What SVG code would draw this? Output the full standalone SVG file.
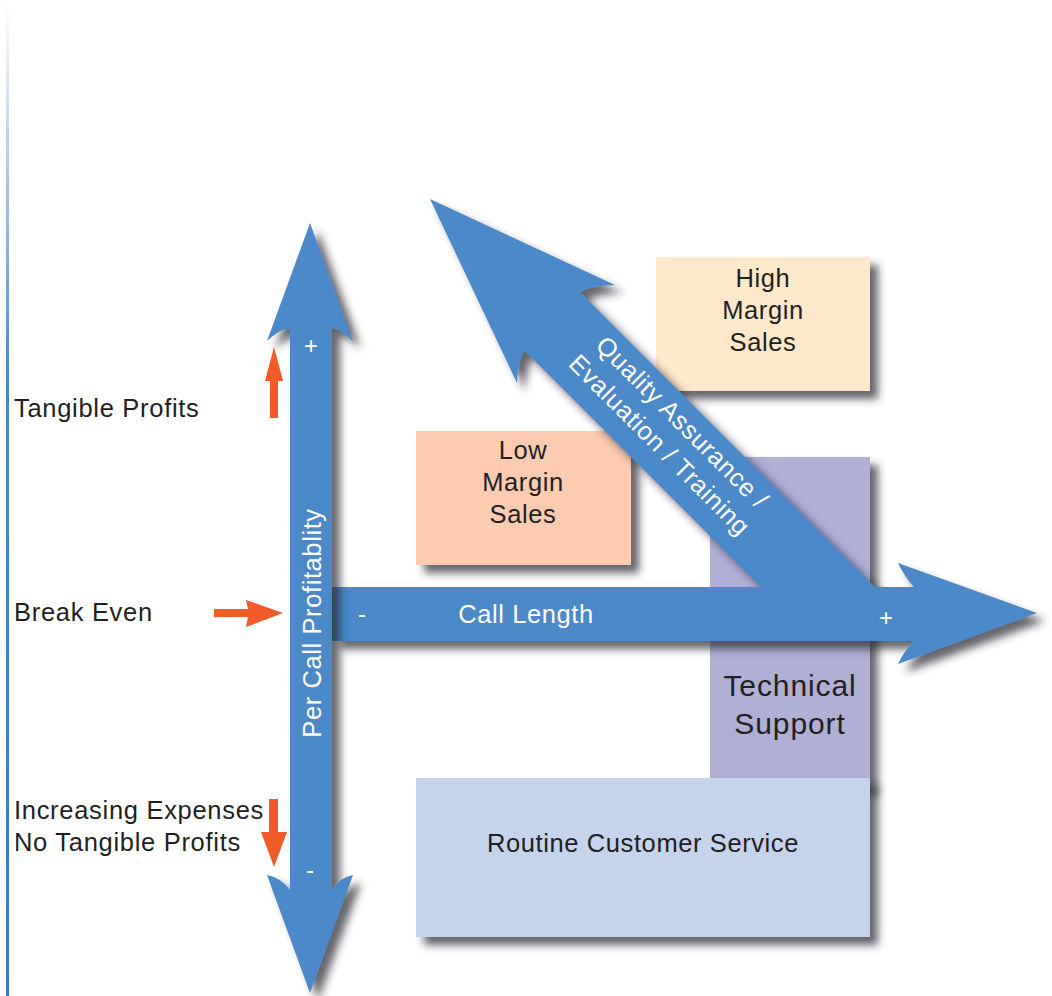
<svg xmlns="http://www.w3.org/2000/svg" width="1052" height="996" viewBox="0 0 1052 996">
  <defs>
    <linearGradient id="edgeFade" x1="0" y1="0" x2="0" y2="1" gradientUnits="objectBoundingBox">
      <stop offset="0" stop-color="#ffffff"/>
      <stop offset="0.38" stop-color="#4a86c8"/>
      <stop offset="1" stop-color="#3a78c2"/>
    </linearGradient>
    <filter id="shadow" x="-10%" y="-10%" width="130%" height="130%">
      <feDropShadow dx="8" dy="8" stdDeviation="4" flood-color="#262b31" flood-opacity="0.72"/>
    </filter>
  </defs>
  <style>
    .lbl { font-family: "Liberation Sans", Arial, Helvetica, sans-serif; font-size: 25.5px; letter-spacing: 0.7px; fill: #231f20; }
    .box-t { font-family: "Liberation Sans", Arial, Helvetica, sans-serif; font-size: 25.5px; letter-spacing: 0.6px; fill: #231f20; text-anchor: middle; }
    .wt { font-family: "Liberation Sans", Arial, Helvetica, sans-serif; font-size: 25.5px; letter-spacing: 0.6px; fill: #ffffff; text-anchor: middle; }
    .sign { font-family: "Liberation Sans", Arial, Helvetica, sans-serif; font-size: 24px; fill: #ffffff; text-anchor: middle; }
    .big-arrow { fill: #4b89c8; filter: url(#shadow); }
    .tick { fill: #f15a29; }
    .box { filter: url(#shadow); }
  </style>

  <rect width="1052" height="996" fill="#ffffff"/>

  <!-- left margin rule -->
  <rect x="6" y="2" width="3" height="994" fill="url(#edgeFade)"/>

  <!-- quadrant boxes -->
  <g id="low-margin-sales">
    <rect class="box" x="416" y="431" width="215" height="134" fill="#fccbb0"/>
    <text class="box-t" x="523" y="459">Low</text>
    <text class="box-t" x="523" y="491">Margin</text>
    <text class="box-t" x="523" y="523">Sales</text>
  </g>
  <g id="high-margin-sales">
    <rect class="box" x="656" y="257" width="214" height="134" fill="#fde8c9"/>
    <text class="box-t" x="763" y="287">High</text>
    <text class="box-t" x="763" y="319">Margin</text>
    <text class="box-t" x="763" y="351">Sales</text>
  </g>
  <g id="technical-support">
    <rect class="box" x="710" y="457" width="160" height="330" fill="#b0afd6"/>
    <text class="box-t" x="790" y="696" style="font-size:30px;letter-spacing:0.9px">Technical</text>
    <text class="box-t" x="790" y="734" style="font-size:30px;letter-spacing:0.9px">Support</text>
  </g>
  <g id="routine-customer-service">
    <rect class="box" x="416" y="778" width="454" height="159" fill="#c5d3ec"/>
    <text class="box-t" x="643" y="852">Routine Customer Service</text>
  </g>

  <!-- axes and the diagonal arrow -->
  <g id="connectors">
    <g id="quality-arrow">
      <path class="big-arrow" d="M430,199 L615,285 Q594,285 580,292 L888,600 L774,600 L524,350 Q517,366 517,383 Z"/>
      <g transform="rotate(45)">
        <text class="wt" x="781" y="-175">Quality Assurance /</text>
        <text class="wt" x="781" y="-143">Evaluation / Training</text>
      </g>
    </g>
    <g id="call-length-axis">
      <path class="big-arrow" d="M332,587 L914,587 Q904,576 898,563 L1037,613 L898,664 Q904,651 914,641 L332,641 Z"/>
      <text class="sign" x="362" y="622">-</text>
      <text class="wt" x="526" y="623">Call Length</text>
      <text class="sign" x="886" y="626">+</text>
    </g>
    <g id="profitability-axis">
      <path class="big-arrow" d="M310,223 L353,341 Q340,329 332,328 L332,890 Q340,877 353,875 L310,993 L267,875 Q280,877 290,890 L290,328 Q280,329 267,341 Z"/>
      <text class="sign" x="311" y="354">+</text>
      <text class="sign" x="310" y="878">-</text>
      <text class="wt" transform="translate(321,623) rotate(-90)" x="0" y="0">Per Call Profitablity</text>
    </g>
    <g id="markers">
      <path class="tick" d="M270,418 L270,381 L265,381 L274,347 L283,381 L278,381 L278,418 Z"/>
      <path class="tick" d="M214,609 L248,609 L246,600 L283,613 L246,627 L248,617 L214,617 Z"/>
      <path class="tick" d="M269,799 L278,799 L278,832 L287,832 L274,867 L261,832 L269,832 Z"/>
    </g>
  </g>

  <!-- side labels -->
  <g id="side-labels">
    <text class="lbl" x="14" y="417">Tangible Profits</text>
    <text class="lbl" x="14" y="621">Break Even</text>
    <text class="lbl" x="14" y="819">Increasing Expenses</text>
    <text class="lbl" x="14" y="851">No Tangible Profits</text>
  </g>
</svg>
